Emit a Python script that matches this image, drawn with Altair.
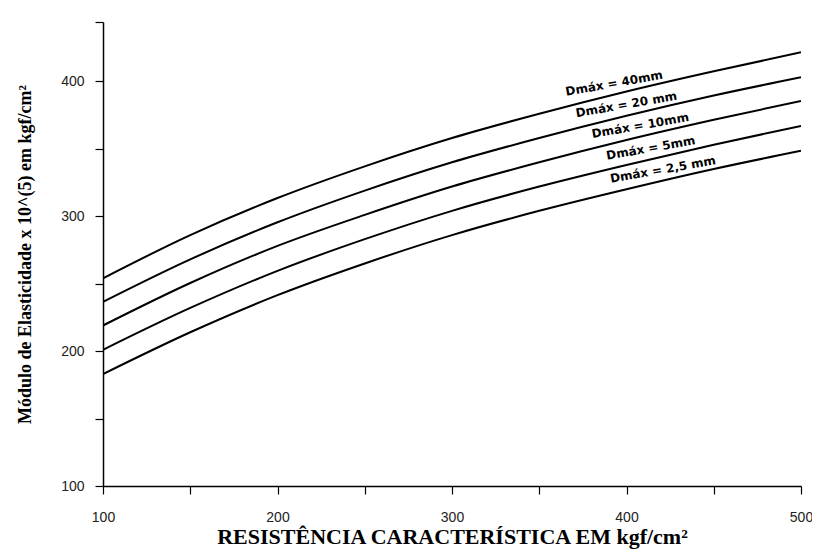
import altair as alt
import pandas as pd
import numpy as np

# Characteristic strength (kgf/cm²)
strength = [100, 150, 200, 250, 300, 350, 400, 450, 500]

series_names = ["Dmáx = 40mm", "Dmáx = 20 mm", "Dmáx = 10mm", "Dmáx = 5mm", "Dmáx = 2,5 mm"]

# Modulus of elasticity x 10^5
e_40 = [254, 286, 313.5, 337, 358, 376, 392.5, 407.5, 421.5]
e_20 = [236.5, 268, 295.5, 319, 340, 358, 374.5, 389.5, 403]
e_10 = [219, 250.5, 278, 301, 322, 340, 356.5, 371.5, 385.5]
e_5 = [201, 232, 259.5, 283, 304, 322, 338, 353, 367]
e_2_5 = [183, 214, 241.5, 265, 286, 304, 320, 335, 348.5]

# where along each curve its label sits (strength value)
label_at = [394, 401, 409, 415, 422]

all_series = [e_40, e_20, e_10, e_5, e_2_5]

rows = []
for name, vals in zip(series_names, all_series):
    for x, y in zip(strength, vals):
        rows.append({"fck": x, "E": y, "serie": name})
df = pd.DataFrame(rows)

lab = pd.DataFrame({
    "fck": label_at,
    "E": [float(np.interp(x, strength, v)) for x, v in zip(label_at, all_series)],
    "text": series_names,
})

x_scale = alt.Scale(domain=[100, 500], nice=False, zero=False)
y_scale = alt.Scale(domain=[100, 444], nice=False, zero=False)

x_axis = alt.Axis(
    values=[100, 150, 200, 250, 300, 350, 400, 450, 500],
    labelExpr="datum.value % 100 == 0 ? datum.label : ''",
    grid=False, domainColor="black", domainWidth=1.5,
    tickColor="black", tickWidth=1.2, tickSize=8,
    labelPadding=16, labelFont="Liberation Sans", labelFontSize=14,
    labelColor="#222", labelFlush=False, labelOverlap=False,
    title="RESISTÊNCIA CARACTERÍSTICA EM kgf/cm²",
    titleFont="Liberation Serif", titleFontSize=22, titleFontWeight="bold",
    titleColor="black", titlePadding=2,
)
y_axis = alt.Axis(
    values=[100, 150, 200, 250, 300, 350, 400, 444],
    labelExpr="datum.value % 100 == 0 ? datum.label : ''",
    grid=False, domainColor="black", domainWidth=1.5,
    tickColor="black", tickWidth=1.2, tickSize=8,
    labelPadding=11, labelFont="Liberation Sans", labelFontSize=14,
    labelColor="#222", labelFlush=False, labelOverlap=False,
    title="Módulo de Elasticidade x 10^(5) em kgf/cm²",
    titleFont="Liberation Serif", titleFontSize=18, titleFontWeight="bold",
    titleColor="black", titlePadding=26,
)

lines = alt.Chart(df).mark_line(
    color="black", strokeWidth=2, interpolate="monotone", clip=True
).encode(
    x=alt.X("fck:Q", scale=x_scale, axis=x_axis),
    y=alt.Y("E:Q", scale=y_scale, axis=y_axis),
    detail="serie:N",
)

texts = alt.Chart(lab).mark_text(
    angle=350, baseline="bottom", align="center", dy=-4,
    font="DejaVu Sans", fontSize=12, fontWeight="bold", color="black",
).encode(
    x=alt.X("fck:Q", scale=x_scale),
    y=alt.Y("E:Q", scale=y_scale),
    text="text:N",
)

chart = alt.layer(lines, texts).properties(
    width=698, height=464,
    padding={"left": 95, "top": 14, "right": 11, "bottom": 63},
    autosize=alt.AutoSizeParams(type="none"),
    background="white",
).configure_view(stroke=None)

chart.save("out.html", embed_options={"renderer": "svg", "actions": False})
